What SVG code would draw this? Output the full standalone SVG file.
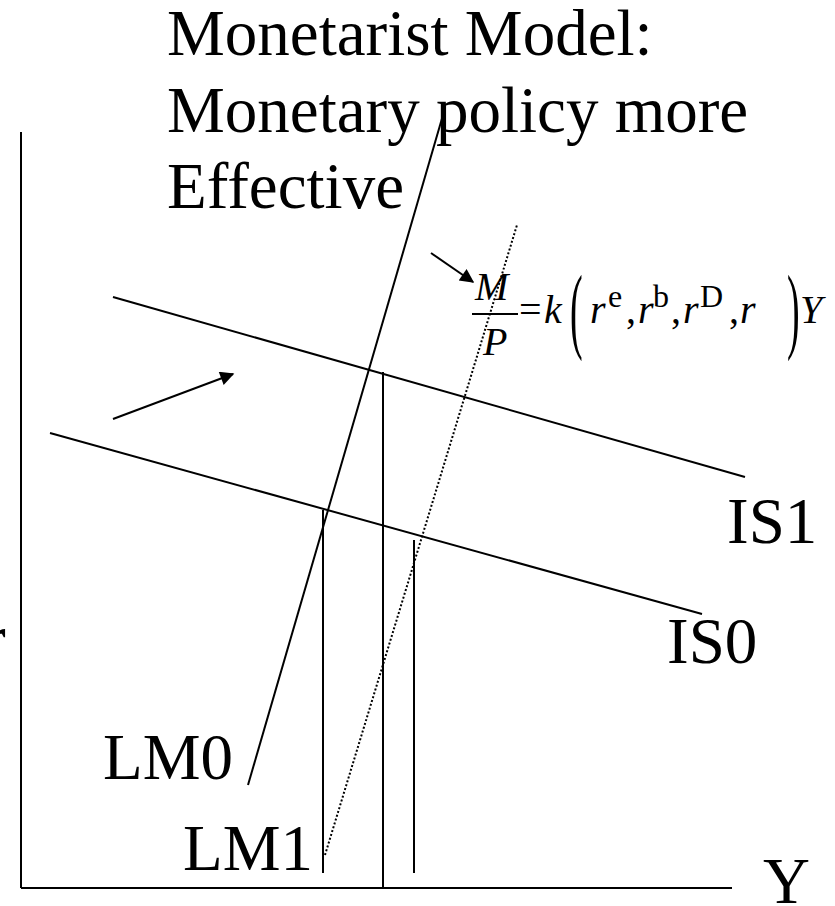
<svg xmlns="http://www.w3.org/2000/svg" width="835" height="906" viewBox="0 0 835 906">
<style>
.lbl{font-family:"Liberation Serif","Times New Roman",serif;font-size:65px;fill:#000}
.eq{font-family:"Liberation Serif","Times New Roman",serif;font-size:40px;fill:#000;font-style:italic}
.up{font-family:"Liberation Serif","Times New Roman",serif;font-size:40px;fill:#000;font-style:normal}
.par{font-family:"Liberation Serif","Times New Roman",serif;font-size:95px;fill:#000;font-style:normal}
.sup{font-family:"Liberation Serif","Times New Roman",serif;font-size:32px;fill:#000}
.ln{stroke:#000;fill:none;stroke-width:2}
</style>
<defs>
<marker id="ah" viewBox="0 0 10 10" refX="9" refY="5" markerWidth="8" markerHeight="7" markerUnits="strokeWidth" orient="auto">
<path d="M0,0 L10,5 L0,10 z" fill="#000"/>
</marker>
</defs>
<rect width="835" height="906" fill="#fff"/>
<g id="title">
<text class="lbl" x="167" y="55">Monetarist Model:</text>
<text class="lbl" x="167" y="132">Monetary policy more</text>
<text class="lbl" x="167" y="208">Effective</text>
</g>
<g id="axes">
<line class="ln" x1="21" y1="132" x2="21" y2="888" stroke-width="3"/>
<line class="ln" x1="21" y1="888" x2="732" y2="888" stroke-width="3"/>
<text class="lbl" x="-16" y="660">r</text>
<text class="lbl" x="763" y="903">Y</text>
</g>
<g id="connectors">
<line id="IS1-line" class="ln" x1="113" y1="297" x2="745" y2="477"/>
<line id="IS0-line" class="ln" x1="50" y1="433" x2="702" y2="614"/>
<line id="LM0-line" class="ln" x1="443" y1="115" x2="248" y2="785"/>
<line id="LM1-line" class="ln" x1="325" y1="855" x2="517" y2="225" stroke-width="1.5" stroke-dasharray="2 2"/>
<line class="ln" x1="323" y1="510" x2="323" y2="873"/>
<line class="ln" x1="383" y1="372" x2="383" y2="888"/>
<line class="ln" x1="414" y1="540" x2="414" y2="873" stroke-width="3"/>
<line class="ln" x1="113" y1="419" x2="233" y2="374" marker-end="url(#ah)"/>
<line class="ln" x1="431" y1="253" x2="473" y2="282" marker-end="url(#ah)"/>
</g>
<g id="IS1"><text class="lbl" x="727" y="543">IS1</text></g>
<g id="IS0"><text class="lbl" x="667" y="663">IS0</text></g>
<g id="LM0"><text class="lbl" x="103" y="779">LM0</text></g>
<g id="LM1"><text class="lbl" x="313" y="870" text-anchor="end">LM1</text></g>
<g id="equation">
<text class="eq" x="475" y="300">M</text>
<line class="ln" x1="472" y1="314" x2="518" y2="314" stroke-width="1.5"/>
<text class="eq" x="483" y="355">P</text>
<text class="up" x="519" y="323">=</text>
<text class="eq" x="544" y="323">k</text>
<text class="par" transform="translate(570,341) scale(0.4,1)">(</text>
<text class="eq" x="590" y="323">r</text>
<text class="sup" x="608" y="307">e</text>
<text class="up" x="626" y="323">,</text>
<text class="eq" x="638" y="323">r</text>
<text class="sup" x="653" y="307">b</text>
<text class="up" x="671" y="323">,</text>
<text class="eq" x="683" y="323">r</text>
<text class="sup" x="700" y="307">D</text>
<text class="up" x="729" y="323">,</text>
<text class="eq" x="740" y="323">r</text>
<text class="par" transform="translate(787,341) scale(0.4,1)">)</text>
<text class="eq" x="800" y="323">Y</text>
</g>
</svg>
